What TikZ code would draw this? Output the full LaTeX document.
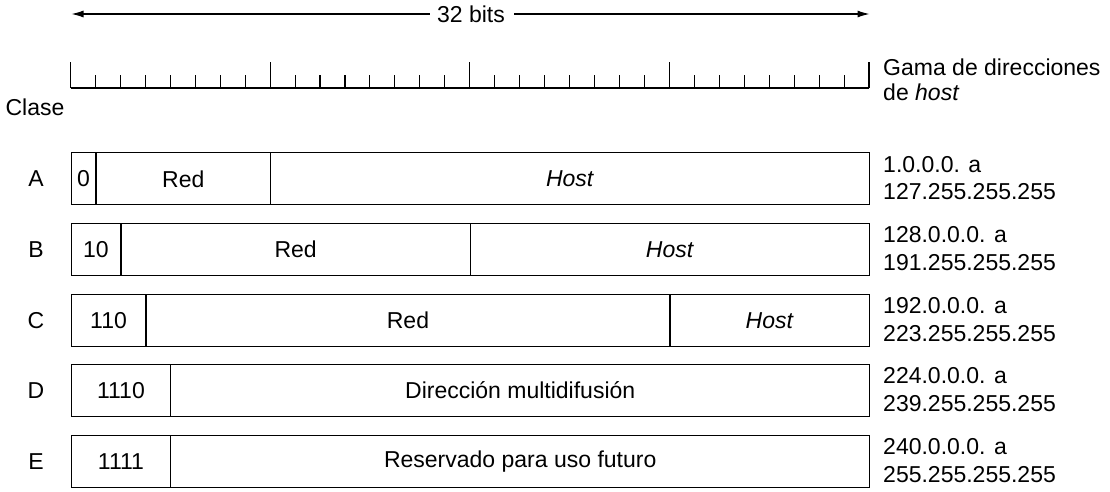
\documentclass[tikz,border=0pt]{standalone}
\usepackage{fontspec}
\setmainfont{Liberation Sans}
\usetikzlibrary{arrows.meta}
\begin{document}
\begin{tikzpicture}[x=1pt,y=-1pt,
  every node/.style={font=\fontsize{23}{24}\selectfont, inner sep=0pt},
  field/.style={draw, rectangle, line width=1.1pt, minimum height=52pt, anchor=west},
  rowlabel/.style={anchor=center},
  iprange/.style={anchor=west, align=left, font=\fontsize{23}{24.5}\selectfont},
  rulerline/.style={line width=1.1pt},
  dimarrow/.style={line width=1.1pt, -{Latex[length=12pt,width=7pt]}}]
\useasboundingbox (0,0) rectangle (1110,492);
% 32 bits arrow
\node (bits) at (471,14) {32 bits};
\coordinate (arrL) at (71.5,14);
\coordinate (arrR) at (869.5,14);
\draw[dimarrow] ([xshift=-7pt]bits.west) -- (arrL);
\draw[dimarrow] ([xshift=9pt]bits.east) -- (arrR);
% ruler
\draw[rulerline] (70.5,88) -- (869,88);
\foreach \i in {0,...,32}{
  \pgfmathsetmacro{\xx}{70.5+\i*24.953}
  \pgfmathtruncatemacro{\m}{mod(\i,8)}
  \ifnum\m=0
    \draw[rulerline] (\xx,88) -- (\xx,62);
  \else
    \draw[rulerline] (\xx,88) -- (\xx,75);
  \fi
}
% headers
\node (clase) at (35,107) {Clase};
\node[anchor=base west, align=left, font=\fontsize{23}{24}\selectfont] (gama) at (883,101) {Gama de direcciones\\[1pt]de \textit{host}};
% Class A
\node[rowlabel] (la) at (36,178.8) {A};
\node[field, minimum width=24.95pt] (a0) at (70.5,178.8) {0};
\node[field, minimum width=174.67pt] (ared) at (95.45,178.8) {Red};
\node[field, minimum width=598.9pt] (ahost) at (270.1,178.8) {\textit{Host}};
\node[iprange] (ra) at (883,178) {1.0.0.0. a\\[3pt]127.255.255.255};
% Class B
\node[rowlabel] (lb) at (36,249.5) {B};
\node[field, minimum width=49.9pt] (b0) at (70.5,249.5) {10};
\node[field, minimum width=349.3pt] (bred) at (120.4,249.5) {Red};
\node[field, minimum width=399.2pt] (bhost) at (469.8,249.5) {\textit{Host}};
\node[iprange] (rb) at (883,248.7) {128.0.0.0. a\\[3pt]191.255.255.255};
% Class C
\node[rowlabel] (lc) at (36,320.2) {C};
\node[field, minimum width=74.9pt] (c0) at (70.5,320.2) {110};
\node[field, minimum width=524.0pt] (cred) at (145.4,320.2) {Red};
\node[field, minimum width=199.6pt] (chost) at (669.4,320.2) {\textit{Host}};
\node[iprange] (rc) at (883,319.4) {192.0.0.0. a\\[3pt]223.255.255.255};
% Class D
\node[rowlabel] (ld) at (36,390.6) {D};
\node[field, minimum width=99.8pt] (d0) at (70.5,390.6) {1110};
\node[field, minimum width=698.7pt] (dm) at (170.3,390.6) {Dirección multidifusión};
\node[iprange] (rd) at (883,389.8) {224.0.0.0. a\\[3pt]239.255.255.255};
% Class E
\node[rowlabel] (le) at (36,461.5) {E};
\node[field, minimum width=99.8pt] (e0) at (70.5,461.5) {1111};
\node[field, minimum width=698.7pt] (er) at (170.3,461.5) {Reservado para uso futuro};
\node[iprange] (re) at (883,460.7) {240.0.0.0. a\\[3pt]255.255.255.255};
\end{tikzpicture}
\end{document}
